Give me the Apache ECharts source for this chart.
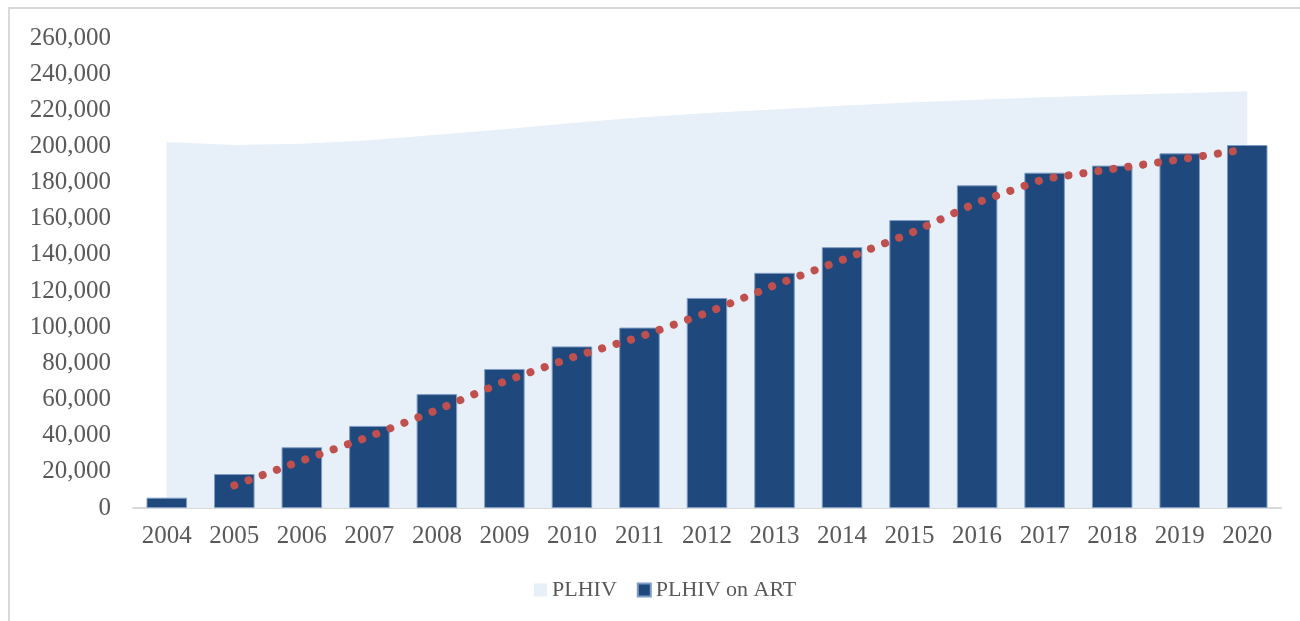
<!DOCTYPE html>
<html>
<head>
<meta charset="utf-8">
<script src="https://cdn.jsdelivr.net/npm/echarts@6/dist/echarts.min.js"></script>
<style>
  html, body { margin: 0; padding: 0; background: #fff; }
  #chart { width: 1300px; height: 621px; }
</style>
</head>
<body>
<div id="chart"></div>
<script>
  const years = ['2004', '2005', '2006', '2007', '2008', '2009', '2010', '2011', '2012',
                 '2013', '2014', '2015', '2016', '2017', '2018', '2019', '2020'];

  // PLHIV (area)
  const plhiv = [202500, 200800, 201500, 203500, 206500, 209500, 213000, 216000, 218500,
                 220500, 222500, 224300, 225800, 227200, 228500, 229500, 230500];

  // PLHIV on ART (bars)
  const onArt = [5700, 18800, 33600, 45400, 63000, 76900, 89400, 99800, 116200,
                 130100, 144300, 159300, 178500, 185500, 189400, 196200, 200800];

  // dotted trend line as drawn on the chart
  const trend = [null, 12500, 26200, 39500, 54200, 70000, 83300, 94600, 108000,
                 123200, 137200, 151800, 169000, 182100, 187500, 192800, 198500];

  const yTicks = [0, 20000, 40000, 60000, 80000, 100000, 120000, 140000, 160000,
                  180000, 200000, 220000, 240000, 260000];

  const font = 'Liberation Serif';
  const textColor = '#595959';

  const chart = echarts.init(document.getElementById('chart'));

  chart.setOption({
    animation: false,
    textStyle: { fontFamily: font },
    graphic: [{
      type: 'rect',
      shape: { x: 9, y: 8, width: 1300, height: 700 },
      style: { fill: 'none', stroke: '#d9d9d9', lineWidth: 2 },
      silent: true
    }],
    grid: { left: 133, right: 19, top: 38, bottom: 113 },
    legend: {
      top: 574,
      left: 529,
      itemWidth: 13,
      itemHeight: 13,
      itemGap: 20,
      icon: 'rect',
      textStyle: { color: textColor, fontSize: 22, fontFamily: font },
      data: ['PLHIV', 'PLHIV on ART']
    },
    xAxis: {
      type: 'category',
      data: years,
      boundaryGap: true,
      axisLine: { lineStyle: { color: '#d9d9d9', width: 2 } },
      axisTick: { show: false },
      axisLabel: { color: textColor, fontSize: 25, margin: 16 }
    },
    yAxis: {
      type: 'value',
      min: 0,
      max: yTicks[yTicks.length - 1],
      interval: yTicks[1] - yTicks[0],
      axisLine: { show: false },
      axisTick: { show: false },
      splitLine: { show: false },
      axisLabel: {
        color: textColor,
        fontSize: 25,
        margin: 22,
        formatter: v => v.toLocaleString('en-US')
      }
    },
    series: [
      {
        name: 'PLHIV',
        type: 'line',
        data: plhiv,
        symbol: 'none',
        lineStyle: { width: 0 },
        itemStyle: { color: '#e7eff8' },
        areaStyle: { color: '#e7eff8', opacity: 1 },
        z: 1
      },
      {
        name: 'PLHIV on ART',
        type: 'bar',
        data: onArt,
        barWidth: '60%',
        itemStyle: { color: '#1f497d', borderColor: '#7f9cc4', borderWidth: 1 },
        z: 2
      },
      {
        name: 'trend',
        type: 'line',
        data: trend,
        symbol: 'none',
        lineStyle: { color: '#c0504d', width: 8, type: [0.1, 15], cap: 'round' },
        z: 3
      }
    ]
  });
</script>
</body>
</html>
